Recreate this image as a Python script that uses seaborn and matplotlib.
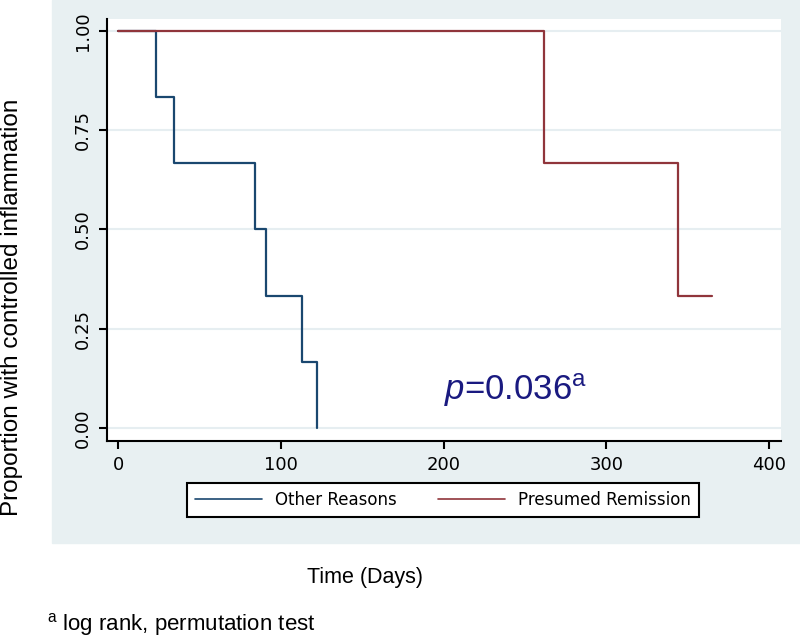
import pandas as pd
import matplotlib.pyplot as plt
import seaborn as sns
from matplotlib.patches import Rectangle

# Kaplan-Meier steps
other_days = [0, 23, 34, 84, 91, 113, 122, 122]
other_prop = [1.0, 0.833, 0.667, 0.5, 0.333, 0.167, 0.0, 0.0]
remis_days = [0, 262, 344, 365]
remis_prop = [1.0, 0.667, 0.333, 0.333]
groups = ['Other Reasons', 'Presumed Remission']
colors = ['#1a476f', '#90353b']
y_ticks = [0.0, 0.25, 0.5, 0.75, 1.0]
x_ticks = [0, 100, 200, 300, 400]

df = pd.concat([
    pd.DataFrame({'days': other_days, 'prop': other_prop, 'group': groups[0]}),
    pd.DataFrame({'days': remis_days, 'prop': remis_prop, 'group': groups[1]}),
])

sns.set_style('white')
plt.rcParams['font.family'] = ['Liberation Sans', 'DejaVu Sans']
plt.rcParams['text.color'] = 'black'
plt.rcParams['xtick.color'] = 'black'
plt.rcParams['ytick.color'] = 'black'
plt.rcParams['mathtext.fontset'] = 'custom'
plt.rcParams['mathtext.it'] = 'Liberation Sans:italic'
plt.rcParams['mathtext.rm'] = 'Liberation Sans'

fig = plt.figure(figsize=(8, 6.39), dpi=100)
W, H = 800, 639
# light bluish graph region
fig.patches.append(Rectangle((52 / W, 1 - 543 / H), 1 - 52 / W, 543 / H,
                             transform=fig.transFigure, color='#e8f0f2', zorder=-5))
ax = fig.add_axes([107 / W, 1 - 441 / H, (781 - 107) / W, (441 - 19) / H])
ax.set_zorder(2)

sns.lineplot(data=df, x='days', y='prop', hue='group', palette=colors,
             drawstyle='steps-post', estimator=None, sort=False,
             linewidth=1.6, ax=ax, legend=False, hue_order=groups)
# keep the red line on top like the original
ax.lines[1].set_zorder(3)

ax.set_xlim(-7, 407.5)
ax.set_ylim(-0.033, 1.03)
ax.set_xticks(x_ticks)
ax.set_yticks(y_ticks)
ax.set_yticklabels(['0.00', '0.25', '0.50', '0.75', '1.00'], rotation=90, va='center')
ax.grid(axis='y', color='#e6eef1', linewidth=1.5)
ax.grid(axis='x', visible=False)
for s in ['top', 'right']:
    ax.spines[s].set_visible(False)
for s in ['left', 'bottom']:
    ax.spines[s].set_color('black')
    ax.spines[s].set_linewidth(1.5)
ax.tick_params(axis='both', length=6, width=1.5, color='black', labelsize=13,
               labelfontfamily='DejaVu Sans', pad=5, left=True, bottom=True)
ax.set_xlabel('')
ax.set_ylabel('')

ax.text(200, 0.07, r'$p$=0.036$^{\mathregular{a}}$', color='#1a1a80', fontsize=25)

handles = [plt.Line2D([], [], color=c, linewidth=1.2) for c in colors]
leg = fig.legend(handles, groups, ncol=2, loc='center',
                 bbox_to_anchor=(443 / W, 1 - 500 / H), frameon=True,
                 fancybox=False, edgecolor='black', facecolor='white', framealpha=1,
                 handlelength=4, columnspacing=2.5, borderpad=0.5,
                 prop={'family': 'DejaVu Sans', 'size': 12})
leg.get_frame().set_linewidth(1.5)
leg.set_zorder(5)

fig.text(12 / W, 1 - 307 / H, 'Proportion with controlled inflammation',
         rotation=90, ha='center', va='center', fontsize=17.5)
fig.text(365 / W, 1 - 577 / H, 'Time (Days)', ha='center', va='center', fontsize=15.5)
fig.text(47 / W, 1 - 625 / H, r'$^{\mathregular{a}}$ log rank, permutation test',
         ha='left', va='center', fontsize=16)

fig.savefig('out.png', dpi=100, facecolor='white')
